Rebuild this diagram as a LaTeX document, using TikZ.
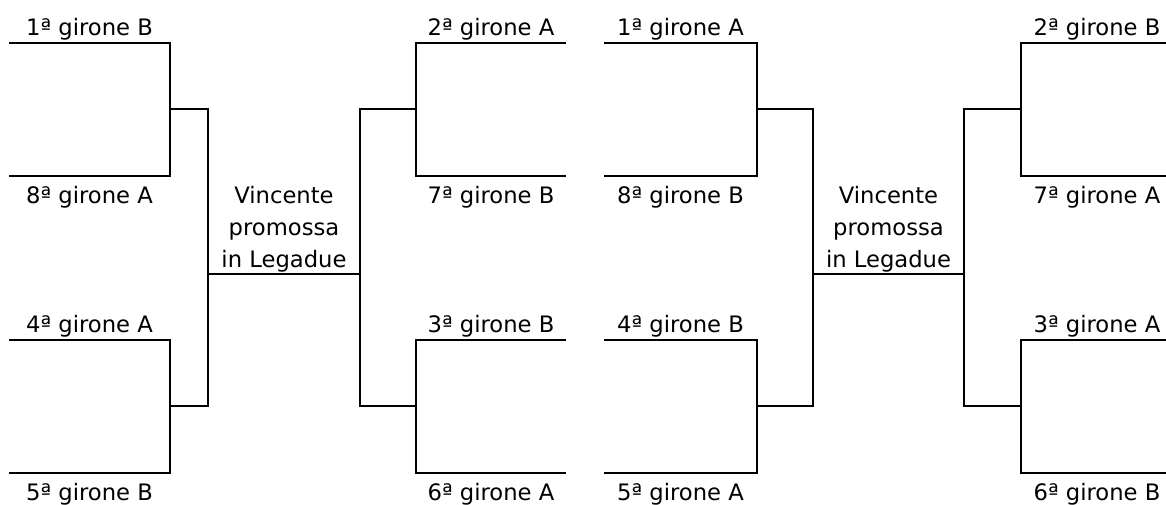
\documentclass[tikz,border=0pt]{standalone}
\usepackage{fontspec}
\setmainfont{DejaVu Sans}

\begin{document}
\begin{tikzpicture}[x=0.75pt,y=-0.75pt,line width=1.6pt,
    team/.style={font=\fontsize{17}{24}\selectfont,inner sep=0pt,anchor=base},
    winner/.style={team,align=center}]
    \useasboundingbox (0,0) rectangle (1166,504);

    % the two brackets: outer left, left, inner left, inner right, right, outer right
    \foreach \xa/\xb/\xc/\xd/\xe/\xf/\k in {9/170/208/360/416/566/1,604/757/813/964/1021/1166/2}{
        \coordinate (w\k) at (\xc,274);
        \coordinate (e\k) at (\xd,274);
        \draw (\xa,43)--(\xb,43)--(\xb,176)--(\xa,176);
        \draw (\xa,340)--(\xb,340)--(\xb,473)--(\xa,473);
        \draw (\xb,109)--(\xc,109)--(\xc,406)--(\xb,406);
        \draw (\xf,43)--(\xe,43)--(\xe,176)--(\xf,176);
        \draw (\xf,340)--(\xe,340)--(\xe,473)--(\xf,473);
        \draw (\xe,109)--(\xd,109)--(\xd,406)--(\xe,406);
        \draw (w\k)--(e\k);
    }

    \node[team] (a1) at (89.5,35) {1ª girone B};
    \node[team] (a8) at (89.5,203) {8ª girone A};
    \node[team] (a4) at (89.5,332) {4ª girone A};
    \node[team] (a5) at (89.5,500) {5ª girone B};
    \node[team] (b2) at (491,35) {2ª girone A};
    \node[team] (b7) at (491,203) {7ª girone B};
    \node[team] (b3) at (491,332) {3ª girone B};
    \node[team] (b6) at (491,500) {6ª girone A};
    \node[winner] (v1) at (284,267) {Vincente\\promossa\\in Legadue};

    \node[team] (c1) at (680.5,35) {1ª girone A};
    \node[team] (c8) at (680.5,203) {8ª girone B};
    \node[team] (c4) at (680.5,332) {4ª girone B};
    \node[team] (c5) at (680.5,500) {5ª girone A};
    \node[team] (d2) at (1097,35) {2ª girone B};
    \node[team] (d7) at (1097,203) {7ª girone A};
    \node[team] (d3) at (1097,332) {3ª girone A};
    \node[team] (d6) at (1097,500) {6ª girone B};
    \node[winner] (v2) at (888.5,267) {Vincente\\promossa\\in Legadue};
\end{tikzpicture}
\end{document}
